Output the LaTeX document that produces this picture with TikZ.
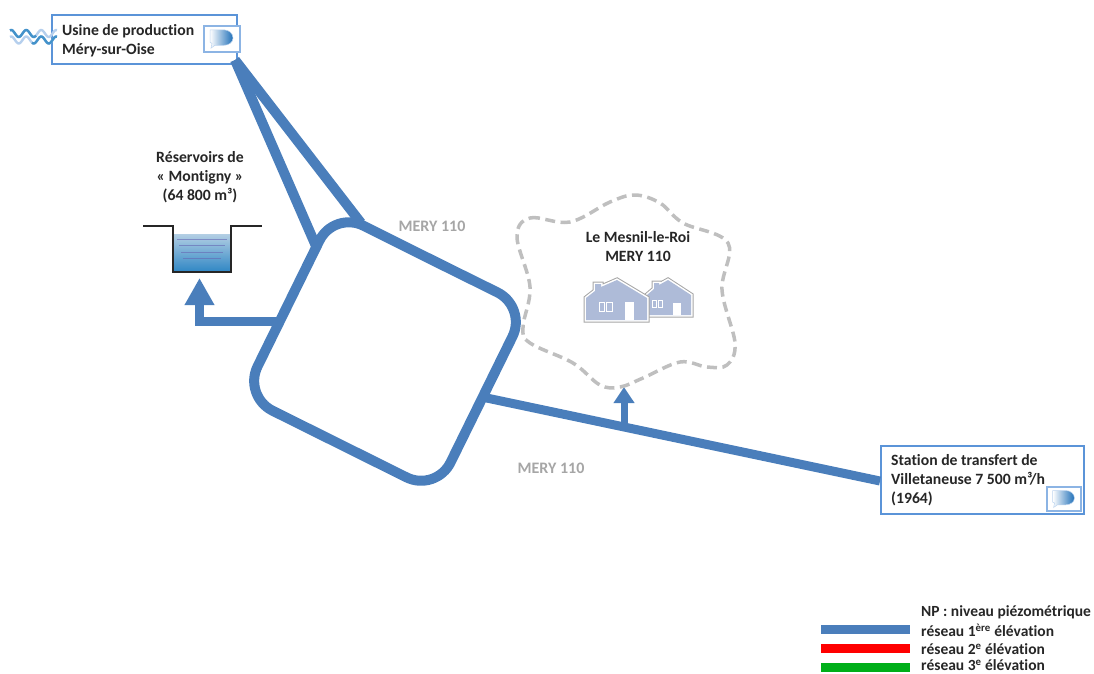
\documentclass[tikz,border=0pt]{standalone}
\usepackage{fontspec}
\setmainfont[RawFeature={-liga}]{Carlito}
\usetikzlibrary{arrows.meta}
\definecolor{pipeblue}{HTML}{4A7EBB}
\definecolor{boxblue}{HTML}{5B94D8}
\definecolor{iconblue}{HTML}{1F6FB8}
\definecolor{waterblue}{HTML}{2E86C4}
\definecolor{waterpale}{HTML}{B4CFE4}
\definecolor{houseblue}{HTML}{AEBBD8}
\tikzset{
	pipe/.style={draw=pipeblue,line width=10pt},
	sitebox/.style={draw=boxblue,line width=2pt,fill=white,minimum height=1pt},
	caption/.style={font=\fontsize{15.7}{19}\selectfont\bfseries,align=center,text=black!85,inner sep=0pt},
	sitetext/.style={caption,align=left,anchor=west},
	netname/.style={font=\fontsize{16}{17}\selectfont\bfseries,text=black!35,inner sep=0pt},
	legendbar/.style={minimum width=89pt,minimum height=9pt,inner sep=0pt,anchor=west},
	legendtext/.style={font=\fontsize{15.5}{17}\selectfont\bfseries,text=black!85,inner sep=0pt,anchor=west},
	houseedge/.style={draw=black!35,line width=1pt,line join=miter,double=white,double distance=3pt},
}
% small bubble icon, (#1,#2) is its top left corner
\newcommand{\bubbleicon}[4]{%
	\draw[draw=boxblue!70,line width=1.4pt,fill=white] (#1,#2) rectangle ++(#3,#4);
	\begin{scope}[shift={(#1,#2)},xscale=#3/36,yscale=#4/27]
		\shade[left color=white,right color=iconblue,draw=boxblue!40,line width=.5pt]
			(6,4) -- (20,4) to[out=0,in=90] (29,12.5) to[out=-90,in=0] (20,20) -- (11,20) -- (7,23) -- (8,18) -- (6,17) -- cycle;
	\end{scope}
}
\begin{document}
\begin{tikzpicture}[x=1pt,y=-1pt]
	\useasboundingbox (0,0) rectangle (1094,673);
	
	% site boxes
	\node[sitebox,minimum width=185pt,minimum height=49pt,inner sep=0pt] (usine) at (144,39) {};
	\node[sitetext] (usinetxt) at (62,40.5) {Usine de production\\Méry-sur-Oise};
	\bubbleicon{204}{26}{36}{26}
	\node[sitebox,minimum width=203pt,minimum height=68pt,inner sep=0pt] (station) at (982,480) {};
	\node[sitetext] (stationtxt) at (891,480.5) {Station de transfert de\\Villetaneuse 7 500 m³/h\\(1964)};
	\bubbleicon{1047}{487}{34}{24}
	
	% river
	\draw[boxblue!45,line width=2.4pt] plot[smooth,domain=10:57,samples=50] (\x,{33.5+3.5*sin(24*\x)});
	\draw[waterblue!90,line width=2.4pt] plot[smooth,domain=10:36,samples=30] (\x,{33.5+3.5*sin(24*\x)});
	\draw[boxblue!45,line width=2.4pt] plot[smooth,domain=10:57,samples=50] (\x,{40+3.5*sin(24*\x)});
	\draw[waterblue!90,line width=2.4pt] plot[smooth,domain=32:57,samples=30] (\x,{40+3.5*sin(24*\x)});
	
	% network loop
	\coordinate (north) at (334,211);
	\coordinate (east) at (527,307);
	\coordinate (south) at (436,492);
	\coordinate (west) at (243,396);
	\coordinate (topedge) at (430,259);
	\draw[pipe,rounded corners=33pt] (topedge) -- (east) -- (south) -- (west) -- (north) -- cycle;
	
	\coordinate (start) at (235,60);
	\coordinate (branchA) at (316,246);
	\coordinate (branchB) at (361,223);
	\draw[pipe] (start) -- (branchA);
	\draw[pipe] (start) -- (branchB);
	
	% to the tanks
	\coordinate (tankfrom) at (283,321);
	\coordinate (tanktip) at (199.5,278);
	\draw[pipe,line width=9pt,-{Triangle[length=27pt,width=28pt]}] (tankfrom) -| (tanktip);
	
	% to the transfer station
	\coordinate (loopout) at (482,397);
	\coordinate (stationin) at (880,481);
	\draw[pipe,line width=9pt] (loopout) -- (stationin);
	
	% to the village
	\coordinate (tee) at (624,427);
	\coordinate (villagetip) at (624,387);
	\draw[pipe,line width=7pt,-{Triangle[length=16pt,width=20pt]}] (tee) -- (villagetip);
	
	% tanks
	\shade[top color=waterpale,bottom color=waterblue] (174,234) rectangle (231,272);
	\foreach \y/\a/\b in {239/177/227,245/179/225,252/181/223,258/183/221}
		\draw[black!50!blue!60,opacity=.6,line width=.8pt] (\a,\y) -- (\b,\y);
	\draw[black!85,line width=1.3pt] (143,226) -- (173,226) -- (173,272) -- (231,272) -- (231,226) -- (262,226);
	\node[caption] (tanks) at (200,177.5) {Réservoirs de\\« Montigny »\\(64 800 m³)};
	
	% village
	\draw[black!25,line width=3.5pt,dash pattern=on 10pt off 5.5pt] plot[smooth cycle,tension=.6] coordinates {
		(517,237) (530,218) (570,222) (610,202) (635,195) (660,203) (683,223) (728,243)
		(722,290) (735,343) (727,365) (707,367) (680,362) (643,378) (620,387) (600,385)
		(573,363) (530,343) (523,327) (530,287)};
	\node[caption] (village) at (638,246.5) {Le Mesnil-le-Roi\\MERY 110};
	% back house
	\draw[houseedge] (647,315) -- (647,295) -- (654,289) -- (654,283) -- (659,283) -- (659,285) -- (668,280) -- (691,295) -- (691,315) -- cycle;
	\fill[houseblue] (647,315) -- (647,295) -- (654,289) -- (654,283) -- (659,283) -- (659,285) -- (668,280) -- (691,295) -- (691,315) -- cycle;
	\fill[white] (673,303) rectangle (681,315);
	\draw[white,line width=1pt] (652,300) rectangle (656,307) (658,300) rectangle (662,307);
	% front house
	\draw[houseedge] (586,320) -- (586,298) -- (595,291) -- (595,284) -- (601,284) -- (601,287) -- (617,280) -- (647,298) -- (647,320) -- cycle;
	\fill[houseblue] (586,320) -- (586,298) -- (595,291) -- (595,284) -- (601,284) -- (601,287) -- (617,280) -- (647,298) -- (647,320) -- cycle;
	\fill[white] (625,302) rectangle (634,320);
	\draw[white,line width=1pt] (599,302) rectangle (604,311) (606,302) rectangle (612,311);
	
	% network names
	\node[netname] (name1) at (432,226) {MERY 110};
	\node[netname] (name2) at (551,468) {MERY 110};
	
	% legend
	\node[legendtext] (legend0) at (921,612) {NP : niveau piézométrique};
	\node[legendbar,fill=pipeblue] (bar1) at (821,629.5) {};
	\node[legendtext] (legend1) at (921,630.5) {réseau 1\textsuperscript{ère} élévation};
	\node[legendbar,fill=red] (bar2) at (821,648.5) {};
	\node[legendtext] (legend2) at (921,649) {réseau 2\textsuperscript{e} élévation};
	\node[legendbar,fill=green!65!black!90!cyan] (bar3) at (821,667.5) {};
	\node[legendtext] (legend3) at (921,665) {réseau 3\textsuperscript{e} élévation};
\end{tikzpicture}
\end{document}
